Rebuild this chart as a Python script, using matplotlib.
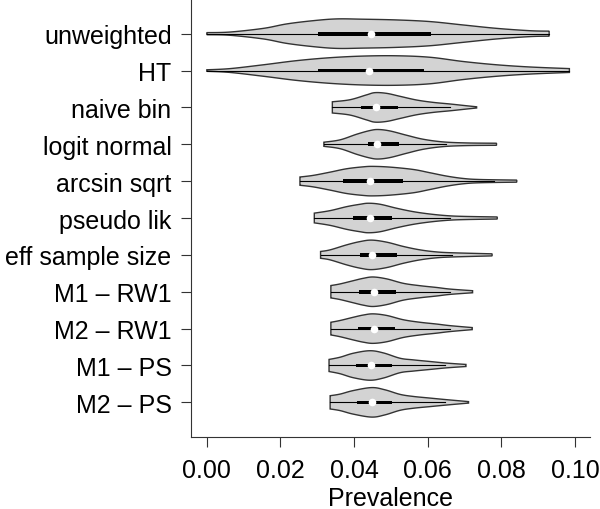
import numpy as np
import matplotlib.pyplot as plt
from matplotlib.patches import Rectangle

plt.rcParams['font.family'] = ['Liberation Sans', 'DejaVu Sans']

methods = ["unweighted", "HT", "naive bin", "logit normal", "arcsin sqrt",
           "pseudo lik", "eff sample size", "M1 \u2013 RW1", "M2 \u2013 RW1",
           "M1 \u2013 PS", "M2 \u2013 PS"]

# violin outlines: prevalence value and relative density
unw_x = [0.0, 0.0063, 0.0154, 0.0217, 0.0289, 0.0353, 0.0424, 0.0516, 0.0606, 0.0696, 0.0787, 0.0878, 0.0930]
unw_d = [0.07, 0.11, 0.36, 0.66, 0.88, 1.0, 0.98, 0.93, 0.82, 0.59, 0.36, 0.20, 0.17]
ht_x = [0.0, 0.0063, 0.0154, 0.0244, 0.0335, 0.0425, 0.0516, 0.0606, 0.0697, 0.0787, 0.0878, 0.0985]
ht_d = [0.05, 0.13, 0.39, 0.67, 0.87, 0.98, 1.0, 0.90, 0.61, 0.39, 0.24, 0.13]
nb_x = [0.0341, 0.0389, 0.0434, 0.0457, 0.0489, 0.0525, 0.0570, 0.0615, 0.0661, 0.0706, 0.0733]
nb_d = [0.38, 0.52, 0.85, 1.0, 0.95, 0.75, 0.50, 0.34, 0.23, 0.11, 0.04]
ln_x = [0.0318, 0.0362, 0.0407, 0.0443, 0.0466, 0.0498, 0.0543, 0.0588, 0.0642, 0.0706, 0.0787]
ln_d = [0.14, 0.30, 0.68, 0.93, 1.0, 0.90, 0.61, 0.34, 0.16, 0.09, 0.07]
as_x = [0.0253, 0.0289, 0.0335, 0.0380, 0.0425, 0.0452, 0.0498, 0.0561, 0.0606, 0.0652, 0.0697, 0.0742, 0.0842]
as_d = [0.28, 0.39, 0.61, 0.84, 0.97, 1.0, 0.95, 0.79, 0.57, 0.34, 0.18, 0.11, 0.07]
pl_x = [0.0292, 0.0335, 0.0380, 0.0416, 0.0439, 0.0471, 0.0516, 0.0561, 0.0606, 0.0652, 0.0697, 0.0789]
pl_d = [0.33, 0.50, 0.77, 0.93, 1.0, 0.93, 0.66, 0.43, 0.27, 0.16, 0.11, 0.07]
es_x = [0.0309, 0.0335, 0.0380, 0.0416, 0.0448, 0.0489, 0.0534, 0.0579, 0.0624, 0.0670, 0.0775]
es_d = [0.23, 0.34, 0.68, 0.90, 1.0, 0.86, 0.57, 0.34, 0.20, 0.14, 0.07]
m1rw_x = [0.0337, 0.0362, 0.0398, 0.0425, 0.0452, 0.0489, 0.0534, 0.0579, 0.0624, 0.0661, 0.0722]
m1rw_d = [0.42, 0.53, 0.75, 0.91, 1.0, 0.87, 0.57, 0.41, 0.29, 0.18, 0.07]
m2rw_x = [0.0337, 0.0362, 0.0398, 0.0425, 0.0452, 0.0489, 0.0534, 0.0579, 0.0624, 0.0661, 0.0721]
m2rw_d = [0.43, 0.55, 0.77, 0.92, 1.0, 0.89, 0.60, 0.43, 0.31, 0.20, 0.07]
m1ps_x = [0.0332, 0.0362, 0.0398, 0.0443, 0.0480, 0.0525, 0.0561, 0.0606, 0.0652, 0.0704]
m1ps_d = [0.41, 0.56, 0.83, 1.0, 0.85, 0.49, 0.38, 0.27, 0.16, 0.07]
m2ps_x = [0.0335, 0.0362, 0.0398, 0.0448, 0.0484, 0.0525, 0.0561, 0.0606, 0.0652, 0.0711]
m2ps_d = [0.45, 0.56, 0.80, 1.0, 0.85, 0.54, 0.40, 0.29, 0.18, 0.05]

# box summaries
q1 = [0.0303, 0.0303, 0.0419, 0.0439, 0.0369, 0.0396, 0.0416, 0.0414, 0.0412, 0.0405, 0.0409]
med = [0.0446, 0.0441, 0.0460, 0.0463, 0.0442, 0.0442, 0.0450, 0.0454, 0.0454, 0.0445, 0.0449]
q3 = [0.0608, 0.0590, 0.0519, 0.0523, 0.0534, 0.0502, 0.0516, 0.0513, 0.0511, 0.0502, 0.0504]
whi = [0.0930, 0.0985, 0.0661, 0.0650, 0.0780, 0.0661, 0.0666, 0.0662, 0.0660, 0.0647, 0.0647]

prof_x = [unw_x, ht_x, nb_x, ln_x, as_x, pl_x, es_x, m1rw_x, m2rw_x, m1ps_x, m2ps_x]
prof_d = [unw_d, ht_d, nb_d, ln_d, as_d, pl_d, es_d, m1rw_d, m2rw_d, m1ps_d, m2ps_d]


def smooth(xs, ds, n=16):
    # catmull-rom through the read points
    p = np.column_stack([xs, ds])
    p = np.vstack([p[0], p, p[-1]])
    t = np.linspace(0, 1, n, endpoint=False)[:, None]
    out = []
    for i in range(1, len(p) - 2):
        p0, p1, p2, p3 = p[i - 1], p[i], p[i + 1], p[i + 2]
        out.append(0.5 * (2 * p1 + (p2 - p0) * t + (2 * p0 - 5 * p1 + 4 * p2 - p3) * t ** 2
                          + (-p0 + 3 * p1 - 3 * p2 + p3) * t ** 3))
    out.append(p[-2][None, :])
    c = np.vstack(out)
    return c[:, 0], c[:, 1]


fig = plt.figure(figsize=(6, 5.1), dpi=100)
ax = fig.add_axes([191 / 600, 72 / 510, 399 / 600, 438 / 510])

n = len(methods)
pos = np.arange(n, 0, -1)
for i in range(n):
    x, d = smooth(prof_x[i], prof_d[i])
    h = 0.4 * d
    y = pos[i]
    ax.fill(np.concatenate([x, x[::-1]]), np.concatenate([y + h, (y - h)[::-1]]),
            fc="#d3d3d3", ec="#333333", lw=1.0, zorder=2)
    ax.plot([prof_x[i][0], whi[i]], [y, y], color="black", lw=0.8, zorder=3)
    ax.add_patch(Rectangle((q1[i], y - 0.05), q3[i] - q1[i], 0.1, fc="black", ec="none", zorder=4))
    ax.plot(med[i], y, "o", color="white", ms=5.5, mec="none", zorder=5)

ax.set_xlim(-0.0043, 0.1041)
ax.set_ylim(0.06, 11.94)
ax.set_xticks([0.0, 0.02, 0.04, 0.06, 0.08, 0.10])
ax.set_xticklabels(["0.00", "0.02", "0.04", "0.06", "0.08", "0.10"])
ax.set_yticks(pos)
ax.set_yticklabels(methods)
ax.tick_params(axis="both", labelsize=18, length=7, width=0.8, color="#333333")
ax.tick_params(axis="x", pad=8)
ax.tick_params(axis="y", pad=7)
ax.set_xlabel("Prevalence", fontsize=18, labelpad=3)
for s in ["top", "right"]:
    ax.spines[s].set_visible(False)
for s in ["left", "bottom"]:
    ax.spines[s].set_linewidth(0.8)
    ax.spines[s].set_color("#333333")

fig.savefig("out.png", dpi=100)
